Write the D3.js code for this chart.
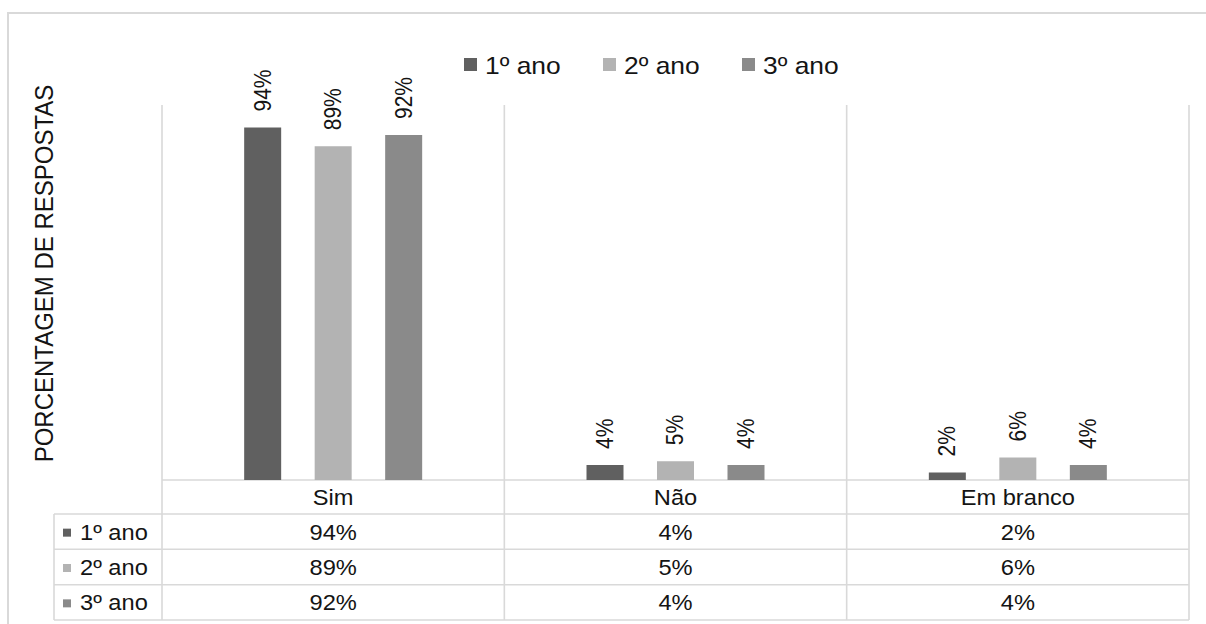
<!DOCTYPE html>
<html>
<head>
<meta charset="utf-8">
<script src="https://cdn.jsdelivr.net/npm/d3@7"></script>
<style>
  html, body { margin: 0; padding: 0; background: #fff; }
  svg { display: block; }
  text { font-family: "Liberation Sans", Arial, sans-serif; fill: #141414; }
</style>
</head>
<body>
<svg id="chart" width="1206" height="624"></svg>
<script>
const categories = ["Sim", "Não", "Em branco"];
const seriesNames = ["1º ano", "2º ano", "3º ano"];
const ano1 = [0.94, 0.04, 0.02];
const ano2 = [0.89, 0.05, 0.06];
const ano3 = [0.92, 0.04, 0.04];
const seriesValues = [ano1, ano2, ano3];
const seriesColors = ["#606060", "#b3b3b3", "#8a8a8a"];
const yTitle = "PORCENTAGEM DE RESPOSTAS";

const SX = 1.1; // horizontal text stretch seen in the reference
const GRID = "#d9d9d9";
const svg = d3.select("#chart");

const fmt = d3.format(".0%");
const x = d3.scaleBand().domain(categories).range([162, 1189]);
const xSub = d3.scalePoint().domain(seriesNames).range([-70.5, 70.5]);
const y = d3.scaleLinear().domain([0, 1]).range([480, 105]);
const barW = 37;

function txt(px, py, s, size, rot, anchor, base) {
  return svg.append("text")
    .attr("transform", `translate(${px},${py}) scale(${SX},1) rotate(${rot || 0})`)
    .attr("text-anchor", anchor || "middle")
    .attr("dominant-baseline", base || "central")
    .attr("font-size", size)
    .text(s);
}

// outer border
svg.append("rect").attr("x", 8).attr("y", 13).attr("width", 1300).attr("height", 700)
  .attr("fill", "none").attr("stroke", GRID).attr("stroke-width", 2);

// table geometry
const rowTop = [480, 514, 549.3, 584.7, 620];
const tableLeft = 54;

// vertical gridlines (category boundaries)
const edges = categories.map(c => x(c)).concat([x.range()[1]]);
svg.selectAll("line.v").data(edges).enter().append("line")
  .attr("x1", d => d).attr("x2", d => d).attr("y1", y(1)).attr("y2", rowTop[4])
  .attr("stroke", GRID).attr("stroke-width", 1.6);
// baseline
svg.append("line").attr("x1", x.range()[0]).attr("x2", x.range()[1])
  .attr("y1", y(0)).attr("y2", y(0)).attr("stroke", GRID).attr("stroke-width", 1.6);
// table horizontal lines
svg.selectAll("line.h").data(rowTop.slice(1)).enter().append("line")
  .attr("x1", tableLeft).attr("x2", x.range()[1]).attr("y1", d => d).attr("y2", d => d)
  .attr("stroke", GRID).attr("stroke-width", 1.6);
svg.append("line").attr("x1", tableLeft).attr("x2", tableLeft)
  .attr("y1", rowTop[1]).attr("y2", rowTop[4]).attr("stroke", GRID).attr("stroke-width", 1.6);

// bars
seriesNames.forEach((s, si) => {
  const g = svg.append("g");
  g.selectAll("rect").data(seriesValues[si]).enter().append("rect")
    .attr("x", (d, i) => x(categories[i]) + x.bandwidth() / 2 + xSub(s) - barW / 2)
    .attr("y", d => y(d))
    .attr("width", barW)
    .attr("height", d => y(0) - y(d))
    .attr("fill", seriesColors[si]);
  seriesValues[si].forEach((d, i) => {
    const cx = x(categories[i]) + x.bandwidth() / 2 + xSub(s);
    txt(cx, y(d) - 16, fmt(d), 21, -90, "start", "central");
  });
});

// category header row
categories.forEach(c => {
  txt(x(c) + x.bandwidth() / 2, (rowTop[0] + rowTop[1]) / 2 + 1, c, 21.5);
});
// table data rows
seriesNames.forEach((s, si) => {
  const cy = (rowTop[si + 1] + rowTop[si + 2]) / 2 + 1;
  svg.append("rect").attr("x", 63).attr("y", cy - 4).attr("width", 8).attr("height", 8)
    .attr("fill", seriesColors[si]);
  txt(80, cy, s, 21.5, 0, "start");
  seriesValues[si].forEach((d, i) => {
    txt(x(categories[i]) + x.bandwidth() / 2, cy, fmt(d), 21.5);
  });
});

// legend
const legX = d3.scalePoint().domain(seriesNames).range([464, 742]);
seriesNames.forEach((s, si) => {
  svg.append("rect").attr("x", legX(s)).attr("y", 58).attr("width", 13).attr("height", 13)
    .attr("fill", seriesColors[si]);
  txt(legX(s) + 21, 65, s, 24, 0, "start");
});

// y axis title
txt(44, 273.5, yTitle, 24, -90, "middle", "central");
</script>
</body>
</html>
